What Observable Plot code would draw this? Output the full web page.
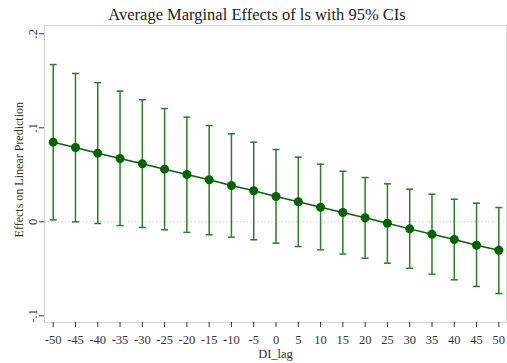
<!DOCTYPE html>
<html><head><meta charset="utf-8">
<script src="https://cdn.jsdelivr.net/npm/d3@7"></script>
<script src="https://cdn.jsdelivr.net/npm/@observablehq/plot@0.6"></script>
<style>html,body{margin:0;padding:0;background:#fff}svg{display:block}</style>
</head><body><div id="chart"></div>
<script>
const diLag   = [-50,-45,-40,-35,-30,-25,-20,-15,-10,-5,0,5,10,15,20,25,30,35,40,45,50];
const effect  = [0.0847,0.0790,0.0730,0.0673,0.0617,0.0560,0.0503,0.0447,0.0386,0.0330,0.0269,0.0213,0.0155,0.0099,0.0043,-0.0015,-0.0075,-0.0132,-0.0188,-0.0249,-0.0302];
const ciHigh  = [0.1673,0.1578,0.1480,0.1390,0.1298,0.1205,0.1113,0.1024,0.0936,0.0847,0.0769,0.0687,0.0613,0.0538,0.0471,0.0404,0.0347,0.0294,0.0240,0.0198,0.0152];
const ciLow   = [0.0021,0.0000,-0.0018,-0.0040,-0.0060,-0.0085,-0.0112,-0.0138,-0.0163,-0.0191,-0.0227,-0.0263,-0.0298,-0.0343,-0.0387,-0.0440,-0.0494,-0.0557,-0.0617,-0.0688,-0.0763];
const xTicks = [-50,-45,-40,-35,-30,-25,-20,-15,-10,-5,0,5,10,15,20,25,30,35,40,45,50];
const xTickLabels = ["-50","-45","-40","-35","-30","-25","-20","-15","-10","-5","0","5","10","15","20","25","30","35","40","45","50"];
const yTicks = [-0.1, 0, 0.1, 0.2];
const yTickLabels = ["-.1", "0", ".1", ".2"];
const titleText = "Average Marginal Effects of ls with 95% CIs";
const xLabel = "DI_lag";
const yLabel = "Effects on Linear Prediction";

const data = diLag.map((x, i) => ({x, eff: effect[i], lo: ciLow[i], hi: ciHigh[i]}));
const ciColor = "#2b7b2b";
const cap = {draw(ctx, size) { const w = Math.sqrt(size / Math.PI); ctx.moveTo(-w, 0); ctx.lineTo(w, 0); }};
const font = "'Liberation Serif', 'Times New Roman', serif";
const mid = {textAnchor: "middle", lineAnchor: "middle"};

const chart = Plot.plot({
  width: 507, height: 363,
  marginLeft: 44, marginRight: 1, marginTop: 25, marginBottom: 41,
  style: {fontFamily: font, fontSize: "12.5px", color: "#333", background: "#fff"},
  x: {domain: [-51.95, 51.72]},
  y: {domain: [-0.1071, 0.2088]},
  marks: [
    Plot.frame({stroke: "#d4d4d4"}),
    Plot.ruleY([0], {stroke: "#b8b8b8", strokeDasharray: "1,2.5"}),
    Plot.ruleX(data, {x: "x", y1: "lo", y2: "hi", stroke: ciColor, strokeWidth: 1.5}),
    Plot.dot(data, {x: "x", y: "hi", symbol: cap, r: 3.5, stroke: ciColor, strokeWidth: 1.5}),
    Plot.dot(data, {x: "x", y: "lo", symbol: cap, r: 3.5, stroke: ciColor, strokeWidth: 1.5}),
    Plot.line(data, {x: "x", y: "eff", stroke: "#0b5f0b", strokeWidth: 1.5}),
    Plot.dot(data, {x: "x", y: "eff", r: 4.5, fill: "#006400"}),
    Plot.axisX({ticks: xTicks, tickFormat: (d) => xTickLabels[xTicks.indexOf(d)], tickSize: 5, tickPadding: 8, fontSize: 12.5, label: null, line: true}),
    Plot.axisX({anchor: "top", ticks: [], label: null, line: true}),
    Plot.axisY({ticks: yTicks, tickSize: 5, tickFormat: () => "", label: null, line: true}),
    Plot.text(yTicks, {y: (d) => d, frameAnchor: "left", dx: -12, rotate: -90, text: (d, i) => yTickLabels[i], fontSize: 12.5, fill: "#333", ...mid}),
    Plot.text([yLabel], {frameAnchor: "left", dx: -25.8, dy: -4.3, rotate: -90, fontSize: 12, fill: "#333", ...mid}),
    Plot.text([xLabel], {frameAnchor: "bottom", dy: 31.3, fontSize: 12.5, fill: "#333", ...mid}),
    Plot.text([titleText], {frameAnchor: "top", dx: -18.5, dy: -10.8, fontSize: 16.5, fill: "#222", ...mid})
  ]
});
document.getElementById("chart").append(chart);
</script>
</body></html>
